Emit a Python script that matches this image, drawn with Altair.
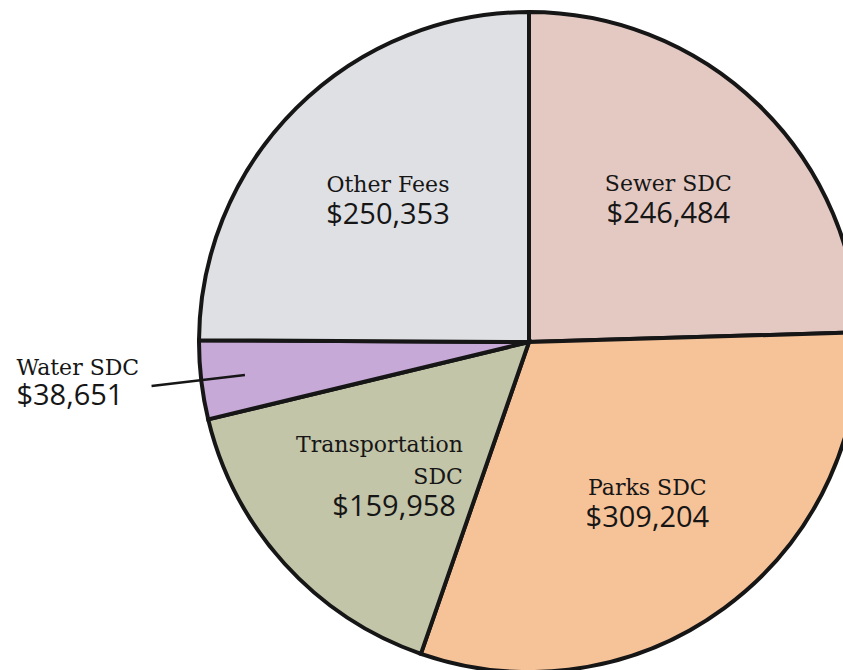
import altair as alt
import pandas as pd

# ---- data ----
categories = ["Sewer SDC", "Parks SDC", "Transportation SDC", "Water SDC", "Other Fees"]
amounts = [246484, 309204, 159958, 38651, 250353]
name_labels = ["Sewer SDC", "Parks SDC", "Transportation\nSDC", "Water SDC", "Other Fees"]
slice_colors = ["#e4c9c3", "#f6c399", "#c3c5a8", "#c6a9d7", "#dfe0e3"]

df = pd.DataFrame({
    "category": categories,
    "amount": amounts,
    "name": name_labels,
    "idx": list(range(len(categories))),
})

CX, CY, R = 529, 342, 330
SERIF = "DejaVu Serif"
SANS = "Open Sans"
INK = "#161616"

base = alt.Chart(df).transform_calculate(
    inner_name="indexof(['Sewer SDC','Parks SDC','Other Fees'], datum.category) >= 0 ? datum.name : ''",
    inner_value="indexof(['Sewer SDC','Parks SDC','Other Fees'], datum.category) >= 0 ? '$' + format(datum.amount, ',') : ''",
    trans_name="datum.category == 'Transportation SDC' ? datum.name : ''",
    trans_value="datum.category == 'Transportation SDC' ? '$' + format(datum.amount, ',') : ''",
    water_name="datum.category == 'Water SDC' ? datum.name : ''",
    water_value="datum.category == 'Water SDC' ? '$' + format(datum.amount, ',') : ''",
)

theta = alt.Theta("amount:Q", stack=True)
order = alt.Order("idx:Q", sort="ascending")
cx = alt.value(CX)
cy = alt.value(CY)

pie = base.mark_arc(radius=R, stroke=INK, strokeWidth=4).encode(
    theta=theta,
    order=order,
    color=alt.Color("category:N", scale=alt.Scale(domain=categories, range=slice_colors), legend=None),
    x=cx, y=cy,
)

def text_layer(field, font, size, dx=0, dy=0, align="center", radius=200):
    return base.mark_text(
        radius=radius, font=font, fontSize=size, color=INK, align=align,
        baseline="alphabetic", dx=dx, dy=dy, lineBreak="\n", lineHeight=32,
    ).encode(theta=theta, order=order, text=alt.Text(f"{field}:N"), x=cx, y=cy)

inner_names = text_layer("inner_name", SERIF, 22, dy=-8)
inner_values = text_layer("inner_value", SANS, 29, dy=24)
trans_names = text_layer("trans_name", SERIF, 22, dx=82, dy=-24, align="right")
trans_values = text_layer("trans_value", SANS, 29, dx=75, dy=40, align="right")
water_names = text_layer("water_name", SERIF, 22, dy=-27, align="left", radius=516)
water_values = text_layer("water_value", SANS, 29, dy=3, align="left", radius=516)

# leader line for Water SDC: a zero-width arc at the slice's mid angle
leader = alt.Chart(df).transform_joinaggregate(
    total="sum(amount)"
).transform_window(
    cum="sum(amount)", sort=[alt.SortField("idx")]
).transform_calculate(
    mid="2 * PI * (datum.cum - datum.amount / 2) / datum.total"
).transform_filter(
    "datum.category == 'Water SDC'"
).mark_arc(radius=380, radius2=286, stroke=INK, strokeWidth=2.5, fill=INK).encode(
    theta=alt.Theta("mid:Q", scale=None),
    theta2="mid:Q",
    x=cx, y=cy,
)

chart = alt.layer(
    pie, leader, inner_names, inner_values, trans_names, trans_values, water_names, water_values
).properties(
    width=843, height=670, autosize=alt.AutoSizeParams(type="none"), padding=0,
    background="white",
).configure_view(stroke=None)

chart.save("out.html", embed_options={"renderer": "svg", "actions": False})
